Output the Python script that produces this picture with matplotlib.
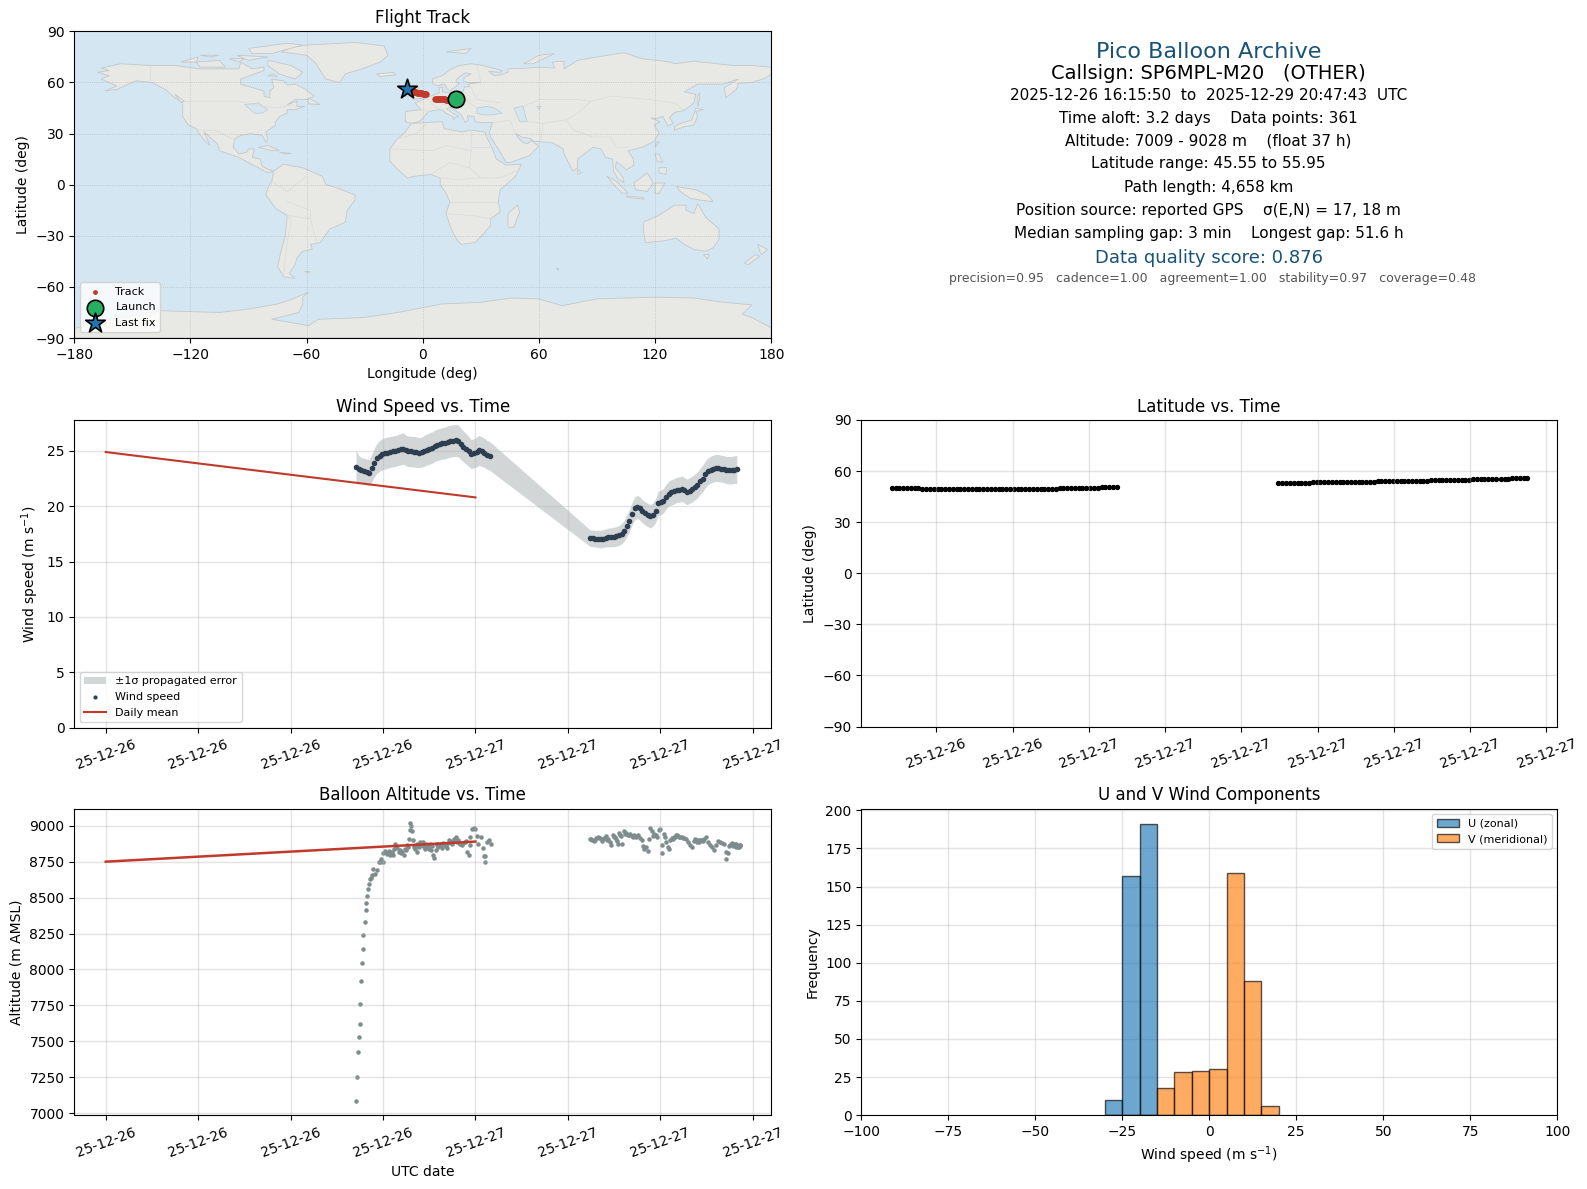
from datetime import datetime

import numpy as np
import matplotlib
matplotlib.use('Agg')
import matplotlib.pyplot as plt
import matplotlib.dates as mdates
from matplotlib.patches import Polygon

# ---- map outlines (lon, lat), read by eye
north_america = [(-168,66),(-162,67),(-166,68.5),(-156,71),(-141,70),(-128,70),(-115,68),(-108,68),(-95,68),(-94,72),(-88,68),(-82,69),(-82,67),(-87,65),(-94,62),(-94,59),(-88,57),(-82,55),(-82,52),(-79,51),(-79,55),(-77,57),(-78,62),(-72,61),(-70,58.5),(-66,59),(-62,57),(-56,52),(-60,50),(-66,50),(-70,47),(-65,49),(-65,46),(-61,46),(-66,44),(-70,44),(-70,42),(-74,40),(-76,37),(-76,35),(-81,31),(-80,26),(-81,25),(-83,29),(-89,30),(-94,29),(-97,27),(-98,22),(-95,18),(-91,19),(-90,21),(-87,21),(-88,16),(-84,15),(-83,11),(-80,9),(-77,8),(-80,7),(-85,10),(-90,13),(-95,16),(-105,20),(-106,24),(-109,27),(-113,31),(-110,23),(-112,25),(-115,29),(-117,33),(-121,35),(-124,40),(-124,48),(-128,51),(-133,56),(-140,60),(-148,61),(-152,59),(-158,56),(-164,55),(-158,58),(-162,60),(-166,62),(-162,64)]
south_america = [(-77,8),(-72,12),(-62,10),(-52,5),(-50,0),(-44,-2),(-35,-6),(-35,-9),(-39,-15),(-40,-22),(-48,-26),(-53,-34),(-58,-35),(-57,-38),(-62,-39),(-65,-43),(-66,-47),(-69,-52),(-66,-55),(-72,-54),(-75,-48),(-73,-38),(-71,-30),(-70,-18),(-76,-14),(-81,-6),(-80,-2),(-78,2)]
africa = [(-6,36),(10,37),(11,33),(20,31),(25,32),(32,31),(33,28),(36,21),(38,15),(43,11.5),(51,12),(48,5),(40,-3),(39,-10),(40,-16),(35,-20),(35,-24),(32,-28),(27,-34),(20,-35),(18,-33),(15,-27),(12,-17),(14,-10),(12,-5),(9,0),(9,4),(4,6),(-4,5),(-8,4),(-13,9),(-17,14),(-17,21),(-13,27),(-9,31)]
eurasia = [(-9,37),(-9,43),(-1,44),(-4,48),(2,51),(8.5,54),(8.5,57),(10.5,57.5),(10,54.5),(14,54),(19,54.5),(21,55),(21.5,57.5),(24,57.5),(23.5,59.3),(30,60),(23,60),(21,61),(21.5,63),(25,65),(22,65.7),(17.5,62),(17,60.5),(18.8,59.5),(16.5,57),(14,55.4),(12.7,56),(11.5,58.5),(10.5,59.3),(8,58),(5.3,59),(5,62),(10,64),(14,67.5),(19,70),(25,71),(31,70),(41,67),(40,66),(34,66.5),(37,64),(40,64.5),(44,66),(44,68),(54,68.5),(60,69),(68,68.5),(67,72),(73,72.5),(73,68),(80,73),(90,75),(104,77.5),(113,74),(128,72),(130,71),(140,72.5),(160,70),(170,70),(180,69),(180,65),(177,62.5),(170,60),(163,59.5),(162,56),(156.5,51),(155.7,57),(163,62),(155,59),(142,59),(135,54.5),(141,53),(140,48),(135,43.5),(130,42.5),(127.5,39.5),(129.4,36),(126.5,34.5),(125,38),(124,40),(121,39),(118,39),(122.5,37),(119.5,35),(122,30.5),(119.5,25.5),(114,22.3),(110,21),(106,20),(108.8,15),(109,11.5),(105,8.7),(103,11),(100,13.5),(99.5,10),(103.5,4),(104,1.3),(101,3),(98.5,8),(98,15),(94.5,16),(92,21),(88,22),(80,15),(80,10),(77.5,8),(73,18),(72.5,21),(67,24.7),(57,25.5),(56,27),(51,28),(48,30),(50,26.5),(51.5,25),(54,24),(56.3,26),(59.8,22.5),(55,17),(45,13),(43,13),(39,21),(35,28),(34.5,31),(36,36.5),(30,36.5),(27,37),(26.5,40),(23,40.5),(23.5,38),(22,36.5),(19.5,41.5),(14,45.5),(12.3,44.5),(16,41.8),(18.5,40),(16.5,39.5),(16,38),(15.5,40),(12,42),(10,44),(8,44),(3,43),(0,39),(-2,37),(-6,36)]
greenland = [(-73,78),(-68,80.5),(-60,82),(-35,83.5),(-20,81.5),(-18,76),(-22,72),(-30,68.5),(-40,65),(-43,60),(-50,62),(-53,67),(-55,71),(-60,76)]
australia = [(114,-22),(122,-18),(130,-12),(136,-12),(136,-15),(140,-17),(142,-11),(146,-19),(153,-26),(153,-32),(150,-37),(146,-39),(140,-38),(135,-35),(131,-31.5),(124,-33),(115,-34),(114,-27)]
antarctica = [(-180,-84.5),(-165,-79),(-150,-77),(-135,-74),(-105,-75),(-90,-73),(-75,-70),(-67,-67),(-59,-63),(-62,-66),(-62,-70),(-64,-75),(-78,-79),(-59,-82.7),(-54,-79),(-31,-78),(-13,-75),(10,-70),(30,-69),(46,-66.5),(60,-67),(72,-71),(90,-67),(120,-66),(140,-66.5),(155,-69),(170,-70.5),(165,-76),(170,-78),(180,-84),(180,-90),(-180,-90)]
islands = [
    [(-80,73),(-68,70),(-62,66),(-66,62),(-74,65),(-80,70)],
    [(-117,72),(-105,73),(-102,69),(-115,69)],
    [(-90,80),(-70,83),(-62,82),(-78,77),(-88,77)],
    [(-125,72),(-116,75),(-117,72)],
    [(-96,76),(-80,75),(-90,73)],
    [(-115,76),(-105,76),(-110,75)],
    [(-100,74),(-92,74),(-95,72)],
    [(-80,64),(-77,65),(-75,63.5)],
    [(-59,51),(-53,47),(-59,47.5)],
    [(-128,53),(-123,49),(-125,48.5)],
    [(-85,22),(-80,23),(-74,20),(-78,20)],
    [(-74,19),(-68,18.5),(-71,18)],
    [(-24,65),(-15,66),(-14,64.5),(-22,63.5)],
    [(-5,50),(1,51),(1,53),(-2,56),(-3,58.5),(-6,57),(-3,54),(-5,52)],
    [(-10,52),(-6,52),(-6,55),(-9,54.5)],
    [(12,78),(25,80),(22,77)],
    [(52,71),(57,71),(68,77),(60,76)],
    [(130,32),(135,34),(140,35),(142,40),(141,43),(145,44),(141,45),(139,38),(133,36),(130,34)],
    [(142,46),(143,50),(143,54),(142,52)],
    [(120,22),(122,25),(120.5,25)],
    [(120,18),(122,18),(124,13),(121,14)],
    [(122,10),(126,10),(125.5,6),(122,7)],
    [(95,5),(100,2),(106,-5),(103,-5),(98,1)],
    [(105,-6.5),(114,-7.5),(114,-8.5),(106,-7.5)],
    [(109,1),(116,7),(119,1),(116,-4),(110,-3)],
    [(120,1),(125,1),(122,-5),(120,-5)],
    [(131,-1),(141,-3),(147,-6),(150,-10),(143,-9),(138,-8),(133,-4)],
    [(145,-41),(148,-41),(147,-43.5)],
    [(173,-35),(178,-38),(175,-41),(174,-39)],
    [(172,-41),(174,-42),(168,-47),(166,-46)],
    [(49,-12),(50,-16),(47,-25),(44,-25),(44,-17)],
    [(80,9),(82,7),(80,6)],
    [(-61,-51),(-58,-51),(-59,-52)],
    [(69,-49),(70,-49),(70,-50)],
]
inland_seas = [
    [(28,42),(28,45),(33,46),(37,45),(41,42),(36,41),(31,41)],
    [(47,45),(52,46),(53,40),(54,37),(50,37),(49,40)],
    [(-92,47),(-85,48),(-80,44),(-83,42),(-87,42)],
    [(59,46),(61,46),(60,44)],
]
borders = [
    [(-123,49),(-95,49),(-83,46),(-75,45),(-67,47)],
    [(-141,70),(-141,60)],
    [(-117,32.5),(-106,31.5),(-97,26)],
    [(-70,-18),(-58,-20),(-55,-33)],
    [(-72,-54),(-70,-33),(-68,-22),(-70,-18)],
    [(-78,2),(-70,-4),(-60,5)],
    [(-70,-10),(-58,-15),(-58,-20)],
    [(-13,27),(-3,30),(2,36)],
    [(-17,21),(5,20),(12,23),(25,20),(25,32)],
    [(25,22),(37,22)],
    [(25,20),(24,10),(30,4),(40,4),(48,8)],
    [(4,6),(14,13),(24,10)],
    [(14,-10),(30,-10),(39,-10)],
    [(12,-17),(25,-18),(35,-20)],
    [(9,4),(18,3),(30,4)],
    [(2,51),(6,46),(10,44)],
    [(-1,44),(3,43)],
    [(14,54),(14,48),(10,47)],
    [(24,59),(28,50),(40,48)],
    [(19,54),(24,48),(28,45)],
    [(30,60),(28,70)],
    [(52,46),(60,50),(80,50),(87,49),(98,52),(117,50),(130,48),(135,44)],
    [(87,49),(80,42),(74,38),(62,36),(54,37)],
    [(74,38),(78,32),(88,28),(97,28),(100,22),(106,22)],
    [(62,36),(61,25)],
    [(48,30),(45,38),(35,36)],
]

# ---- track
track_lon = [17.4,16.9,16.4,15.9,15.4,14.9,14.4,13.9,13.4,12.9,12.4,11.9,11.4,10.9,10.4,9.9,9.4,8.9,8.4,7.9,7.4,6.9,6.4,
             1.9,1.4,0.9,0.4,-0.1,-0.6,-1.1,-1.6,-2.1,-2.6,-3.1,-3.6,-4.1,-4.6,-5.1,-5.6,-6.1,-6.6,-7.1,-7.6,-8.1]
track_lat = [50.1,50.1,50.0,50.0,50.0,49.9,49.9,49.9,49.9,50.0,50.0,50.0,50.1,50.1,50.1,50.2,50.2,50.2,50.3,50.3,50.4,50.4,50.5,
             53.0,53.1,53.2,53.3,53.5,53.6,53.7,53.8,53.9,54.0,54.1,54.3,54.4,54.5,54.7,54.8,54.9,55.1,55.3,55.6,56.0]

# ---- wind speed, hours after 2025-12-26 00:00
wind_hours = [16.25,16.42,16.59,16.76,16.93,17.10,17.27,17.44,17.61,17.78,17.95,18.12,18.29,18.46,18.63,18.80,18.97,19.14,19.31,19.48,19.65,19.82,19.99,20.16,20.33,20.50,20.67,20.84,21.01,21.18,21.35,21.52,21.69,21.86,22.03,22.20,22.37,22.54,22.71,22.88,23.05,23.22,23.39,23.56,23.73,23.90,24.07,24.24,24.41,24.58,24.75,24.92,
              31.44,31.61,31.78,31.95,32.12,32.29,32.46,32.63,32.80,32.97,33.14,33.31,33.48,33.65,33.82,33.99,34.16,34.33,34.50,34.67,34.84,35.01,35.18,35.35,35.52,35.69,35.86,36.03,36.20,36.37,36.54,36.71,36.88,37.05,37.22,37.39,37.56,37.73,37.90,38.07,38.24,38.41,38.58,38.75,38.92,39.09,39.26,39.43,39.60,39.77,39.94,40.11,40.28,40.45,40.62,40.79,40.96]
wind_speed = [23.55,23.33,23.25,23.20,23.10,23.05,23.45,23.95,24.35,24.55,24.70,24.78,24.85,24.90,24.95,25.00,25.08,25.15,25.22,25.05,24.95,24.95,24.93,24.90,24.85,24.88,25.02,25.12,25.22,25.30,25.45,25.55,25.62,25.68,25.72,25.82,25.88,25.92,25.95,25.90,25.65,25.40,25.20,24.95,24.70,24.80,24.90,25.05,24.95,24.82,24.65,24.55,
              17.12,17.10,17.07,17.05,17.03,17.08,17.14,17.18,17.20,17.22,17.27,17.36,17.52,17.80,18.20,18.70,19.30,19.80,19.95,19.80,19.55,19.35,19.22,19.08,19.25,19.60,20.25,20.35,20.50,20.85,21.15,21.25,21.35,21.47,21.50,21.60,21.45,21.30,21.42,21.55,21.75,21.95,22.25,22.50,22.90,23.15,23.30,23.40,23.47,23.45,23.40,23.35,23.28,23.25,23.27,23.30,23.33]
wind_err = [1.55,1.25,1.15,1.15,1.15,1.2,1.25,1.3,1.35,1.4,1.4,1.42,1.42,1.4,1.4,1.4,1.4,1.42,1.42,1.38,1.38,1.38,1.38,1.38,1.36,1.36,1.4,1.4,1.42,1.42,1.42,1.42,1.42,1.42,1.44,1.44,1.44,1.44,1.44,1.44,1.42,1.4,1.38,1.35,1.3,1.32,1.34,1.36,1.34,1.32,1.3,1.3,
            .75,.75,.76,.78,.8,.8,.82,.85,.85,.88,.88,.9,.92,.95,.98,1.0,1.02,1.04,1.05,1.05,1.05,1.05,1.05,1.05,1.05,1.08,1.1,1.1,1.12,1.12,1.12,1.14,1.14,1.14,1.15,1.15,1.15,1.15,1.15,1.16,1.17,1.18,1.18,1.2,1.2,1.2,1.22,1.22,1.22,1.22,1.22,1.22,1.22,1.24,1.24,1.25,1.25]

daily_dates = [datetime(2025, 12, 26), datetime(2025, 12, 27)]
daily_wind = [24.9, 20.8]
daily_alt = [8750, 8890]

# ---- latitude
lat_hours = [16.25,16.40,16.55,16.70,16.85,17.00,17.15,17.30,17.45,17.60,17.75,17.90,18.05,18.20,18.35,18.50,18.65,18.80,18.95,19.10,19.25,19.40,19.55,19.70,19.85,20.00,20.15,20.30,20.45,20.60,20.75,20.90,21.05,21.20,21.35,21.50,21.65,21.80,21.95,22.10,22.25,22.40,22.55,22.70,22.85,23.00,23.15,23.30,23.45,23.60,23.75,23.90,24.05,24.20,24.35,24.50,24.65,24.80,24.95,25.10,
             31.46,31.61,31.76,31.91,32.06,32.21,32.36,32.51,32.66,32.81,32.96,33.11,33.26,33.41,33.56,33.71,33.86,34.01,34.16,34.31,34.46,34.61,34.76,34.91,35.06,35.21,35.36,35.51,35.66,35.81,35.96,36.11,36.26,36.41,36.56,36.71,36.86,37.01,37.16,37.31,37.46,37.61,37.76,37.91,38.06,38.21,38.36,38.51,38.66,38.81,38.96,39.11,39.26,39.41,39.56,39.71,39.86,40.01,40.20,40.35,40.50,40.65,40.80,40.95,41.10,41.25]
lat_values = [50.0,50.0,50.1,50.0,50.0,50.0,50.1,49.9,49.4,49.3,49.3,49.3,49.2,49.3,49.3,49.3,49.3,49.2,49.3,49.3,49.3,49.3,49.2,49.3,49.3,49.3,49.3,49.3,49.2,49.3,49.3,49.3,49.3,49.3,49.3,49.2,49.3,49.3,49.3,49.3,49.3,49.4,49.3,49.4,49.9,50.0,50.0,50.0,50.0,50.1,50.0,50.0,50.0,50.1,50.1,50.6,50.6,50.7,50.6,50.5,
              53.0,53.0,52.9,53.0,53.0,53.0,53.0,53.1,53.1,53.6,53.6,53.6,53.6,53.6,53.7,53.6,53.6,53.6,53.6,53.6,53.7,53.6,53.6,53.6,53.7,53.7,54.1,54.1,54.1,54.1,54.1,54.1,54.1,54.2,54.1,54.1,54.1,54.2,54.2,54.2,54.7,54.7,54.7,54.7,54.7,54.7,54.8,54.7,54.7,54.8,54.8,55.3,55.3,55.3,55.3,55.3,55.4,55.3,55.1,55.1,55.2,55.8,55.9,55.9,55.9,55.9]

# ---- altitude
alt_hours = [16.23,16.30,16.36,16.43,16.49,16.49,16.56,16.62,16.69,16.69,16.82,16.89,16.89,16.95,17.02,17.08,17.15,17.21,17.28,17.34,17.47,17.60,17.73,
             17.82,17.90,17.99,18.03,18.16,18.32,18.47,18.64,18.79,18.86,19.01,19.18,19.34,19.47,19.57,19.68,19.75,19.79,19.77,19.88,19.94,20.01,20.12,20.23,20.33,20.44,20.59,20.70,20.85,20.98,21.11,21.24,21.31,21.42,21.53,21.68,21.83,22.00,22.16,22.29,22.42,22.55,22.72,22.85,23.02,23.15,23.31,23.46,23.57,23.63,23.67,23.76,23.89,24.00,24.07,24.17,24.33,24.50,24.56,24.65,24.61,24.72,24.87,25.04,
             18.10,18.25,18.40,18.55,18.70,18.93,19.10,19.26,19.40,19.62,20.05,20.18,20.28,20.38,20.50,20.65,20.78,20.92,21.05,21.17,21.48,21.60,21.75,21.92,22.08,22.22,22.35,22.48,22.63,22.78,22.93,23.08,23.22,23.38,
             31.44,31.57,31.70,31.83,31.96,32.09,32.22,32.35,32.48,32.61,32.74,32.79,32.92,33.00,33.13,33.26,33.31,33.39,33.50,33.61,33.74,33.87,34.00,34.13,34.26,34.39,34.52,34.65,34.78,34.87,34.95,35.08,35.17,35.26,35.34,35.43,35.52,35.61,35.69,35.78,35.89,36.00,36.08,36.13,36.21,36.30,36.39,36.47,36.56,36.65,36.78,36.91,37.04,37.17,37.30,37.43,37.56,37.69,37.82,37.95,38.08,38.21,38.34,38.47,38.60,38.73,38.86,38.99,39.08,39.21,39.34,39.47,39.60,39.73,39.86,39.99,40.12,40.27,40.29,40.38,40.46,40.55,40.66,40.77,40.88,40.98,41.09,41.20,
             40.60,40.71,40.82,40.93,41.03,41.14,41.18,31.50,31.76,32.02,32.28,32.55,33.07,33.20,33.45,33.68,33.94,34.20,34.45,36.84,36.97,37.10,37.24,37.50,38.28,38.40,38.54,38.66,38.80]
alt_values = [7083,7250,7423,7528,7618,7757,7917,8042,8139,8243,8333,8417,8465,8514,8562,8597,8632,8639,8660,8701,8667,8690,8748,
              8748,8771,8748,8812,8817,8812,8799,8794,8875,8852,8817,8812,8799,8829,8863,8910,9021,8998,8968,8961,8903,8852,8863,8817,8852,8875,8887,8840,8852,8840,8829,8799,8775,8829,8875,8863,8845,8868,8845,8898,8887,8887,8921,8898,8875,8863,8887,8817,8799,8863,8921,8975,8984,8979,8928,8875,8921,8845,8789,8789,8748,8887,8898,8875,
              8825,8805,8825,8815,8840,8845,8830,8820,8840,8850,8840,8870,8860,8885,8865,8850,8875,8860,8870,8860,8865,8850,8870,8880,8860,8880,8895,8870,8905,8890,8880,8870,8880,8895,
              8910,8903,8894,8914,8924,8914,8891,8917,8928,8910,8887,8868,8937,8921,8910,8875,8951,8933,8875,8961,8951,8937,8940,8928,8933,8928,8933,8914,8898,8859,8840,8852,8822,8905,8984,8961,8928,8944,8937,8921,8968,8975,8863,8812,8944,8921,8887,8852,8836,8898,8914,8921,8933,8928,8921,8924,8914,8910,8887,8868,8852,8891,8898,8898,8903,8898,8910,8921,8887,8868,8852,8829,8868,8891,8887,8882,8873,8817,8766,8812,8859,8868,8880,8863,8875,8863,8852,8863,
              8870,8860,8872,8850,8855,8868,8858,8905,8900,8918,8910,8900,8920,8895,8930,8945,8935,8925,8925,8910,8925,8935,8925,8915,8905,8890,8885,8900,8895]

# ---- histogram counts
bin_edges = [-30, -25, -20, -15, -10, -5, 0, 5, 10, 15, 20]
u_counts = [10, 157, 191, 0, 0, 0, 0, 0, 0, 0]
v_counts = [0, 0, 0, 18, 28, 29, 30, 159, 88, 6]

info_lines = [
    ("Pico Balloon Archive", 16, '#1a5276', 51, 0.7615),
    ("Callsign: SP6MPL-M20   (OTHER)", 14, 'black', 73, 0.7615),
    ("2025-12-26 16:15:50  to  2025-12-29 20:47:43  UTC", 11, 'black', 94, 0.7615),
    ("Time aloft: 3.2 days    Data points: 361", 11, 'black', 117, 0.7615),
    ("Altitude: 7009 - 9028 m    (float 37 h)", 11, 'black', 139.5, 0.7615),
    ("Latitude range: 45.55 to 55.95", 11, 'black', 162, 0.7615),
    ("Path length: 4,658 km", 11, 'black', 185, 0.7615),
    ("Position source: reported GPS    σ(E,N) = 17, 18 m", 11, 'black', 208, 0.7615),
    ("Median sampling gap: 3 min    Longest gap: 51.6 h", 11, 'black', 231, 0.7615),
    ("Data quality score: 0.876", 13, '#1a5276', 255, 0.7615),
    ("precision=0.95   cadence=1.00   agreement=1.00   stability=0.97   coverage=0.48", 9, '#555555', 275, 0.7638),
]

base = mdates.date2num(datetime(2025, 12, 26))
wind_t = base + np.array(wind_hours) / 24
lat_t = base + np.array(lat_hours) / 24
alt_t = base + np.array(alt_hours) / 24
wind_speed = np.array(wind_speed)
wind_err = np.array(wind_err)

RED = '#c0392b'
NAVY = '#2c3e50'
GREY = '#7f8c8d'
LAND = '#e8e8e4'
WATER = '#d4e6f1'

fig = plt.figure(figsize=(15.87, 11.89), dpi=100)
ax_map = fig.add_axes([.0468, .7157, .4392, .2579])
ax_wind = fig.add_axes([.0468, .3881, .4392, .2587])
ax_lat = fig.add_axes([.5427, .3889, .4385, .2579])
ax_alt = fig.add_axes([.0468, .0621, .4392, .2579])
ax_hist = fig.add_axes([.5427, .0621, .4385, .2579])

# Flight track
ax_map.set_facecolor(WATER)
for poly in [north_america, south_america, africa, eurasia, greenland, australia, antarctica] + islands:
    ax_map.add_patch(Polygon(poly, closed=True, facecolor=LAND, edgecolor='#c3c9cb', linewidth=0.6, zorder=1))
for poly in inland_seas:
    ax_map.add_patch(Polygon(poly, closed=True, facecolor=WATER, edgecolor='#c3c9cb', linewidth=0.5, zorder=1.1))
for line in borders:
    xs, ys = zip(*line)
    ax_map.plot(xs, ys, color='#dcdcda', lw=0.6, zorder=1.2)
ax_map.grid(True, linestyle=':', linewidth=0.6, color='#999999', alpha=0.5, zorder=2)
ax_map.scatter(track_lon, track_lat, s=13, color=RED, label='Track', zorder=3)
ax_map.scatter(track_lon[0], track_lat[0], s=140, color='#27ae60', edgecolor='black', linewidth=1.2, label='Launch', zorder=4)
ax_map.scatter(track_lon[-1], track_lat[-1], s=220, marker='*', color='#1f77b4', edgecolor='black', linewidth=1.2, label='Last fix', zorder=5)
ax_map.set_xlim(-180, 180)
ax_map.set_ylim(-90, 90)
ax_map.set_xticks(np.arange(-180, 181, 60))
ax_map.set_yticks(np.arange(-90, 91, 30))
ax_map.set_xlabel('Longitude (deg)')
ax_map.set_ylabel('Latitude (deg)')
ax_map.set_title('Flight Track', fontsize=12)
leg = ax_map.legend(loc='lower left', fontsize=8, framealpha=0.8)
leg.legend_handles[0].set_sizes([6])

# Wind speed
ax_wind.fill_between(wind_t, wind_speed - wind_err, wind_speed + wind_err, color=GREY, alpha=0.35, linewidth=0, label='±1σ propagated error')
ax_wind.scatter(wind_t, wind_speed, s=9, color=NAVY, label='Wind speed', zorder=3)
ax_wind.plot(daily_dates, daily_wind, color=RED, lw=1.5, label='Daily mean', zorder=4)
ax_wind.set_ylim(0, 27.8)
ax_wind.set_ylabel('Wind speed (m s$^{-1}$)')
ax_wind.set_title('Wind Speed vs. Time', fontsize=12)
leg = ax_wind.legend(loc='lower left', fontsize=8)
leg.legend_handles[1].set_sizes([4])

# Latitude
ax_lat.scatter(lat_t, lat_values, s=8, color='black')
ax_lat.set_ylim(-90, 90)
ax_lat.set_yticks(np.arange(-90, 91, 30))
ax_lat.set_ylabel('Latitude (deg)')
ax_lat.set_title('Latitude vs. Time', fontsize=12)

# Altitude
ax_alt.scatter(alt_t, alt_values, s=5, color=GREY)
ax_alt.plot(daily_dates, daily_alt, color=RED, lw=1.8, zorder=4)
ax_alt.set_ylim(6986, 9120)
ax_alt.set_yticks(np.arange(7000, 9001, 250))
ax_alt.set_ylabel('Altitude (m AMSL)')
ax_alt.set_xlabel('UTC date')
ax_alt.set_title('Balloon Altitude vs. Time', fontsize=12)

for ax in (ax_wind, ax_alt):
    ax.xaxis.set_major_locator(mdates.HourLocator(byhour=[0, 6, 12, 18]))
    ax.set_xlim(base - 2.04 / 24, base + 43.2 / 24)
ax_lat.xaxis.set_major_locator(mdates.HourLocator(byhour=range(0, 24, 3)))
ax_lat.set_xlim(base + 15.05 / 24, base + 42.42 / 24)
for ax in (ax_wind, ax_lat, ax_alt):
    ax.xaxis.set_major_formatter(mdates.DateFormatter('%y-%m-%d'))
    ax.tick_params(axis='x', rotation=20)
    ax.grid(True, color='#b0b0b0', alpha=0.35, linewidth=1)

# Wind components
widths = np.diff(bin_edges)
ax_hist.bar(bin_edges[:-1], u_counts, width=widths, align='edge', color='C0', alpha=0.65, edgecolor='black', label='U (zonal)', zorder=2)
ax_hist.bar(bin_edges[:-1], v_counts, width=widths, align='edge', color='C1', alpha=0.65, edgecolor='black', label='V (meridional)', zorder=2)
ax_hist.set_xlim(-100, 100)
ax_hist.set_ylim(0, 201.2)
ax_hist.grid(True, color='#b0b0b0', alpha=0.35, linewidth=1, zorder=1)
ax_hist.set_xlabel('Wind speed (m s$^{-1}$)')
ax_hist.set_ylabel('Frequency')
ax_hist.set_title('U and V Wind Components', fontsize=12)
ax_hist.legend(loc='upper right', fontsize=8)

# Summary text block
for text, size, color, ypx, xfrac in info_lines:
    fig.text(xfrac, 1 - ypx / 1175, text, ha='center', va='center', fontsize=size, color=color)

fig.savefig('out.png', dpi=100)
